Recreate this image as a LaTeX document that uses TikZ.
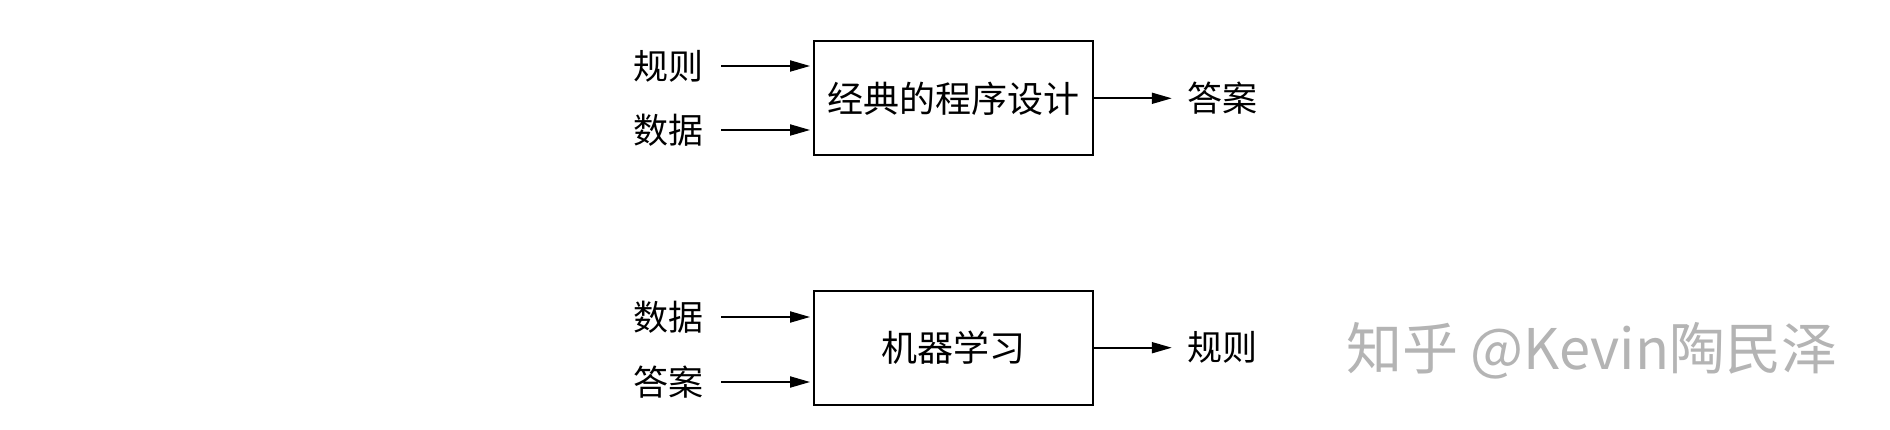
\documentclass[tikz,border=0pt]{standalone}
\usepackage{fontspec}
\setmainfont{Liberation Serif}
\newfontfamily\cjk{Noto Sans CJK SC}
\usetikzlibrary{arrows.meta,calc}
\definecolor{wm}{HTML}{B4B4B4}
\tikzset{
  procbox/.style={draw=black,line width=1.8pt,minimum width=279pt,minimum height=114pt,inner sep=0pt,font=\cjk\fontsize{36}{36}\selectfont},
  lbl/.style={inner sep=0pt,font=\cjk\fontsize{35}{35}\selectfont},
  arr/.style={line width=1.8pt,-{Stealth[length=20pt,width=11pt,inset=0pt]}},
}
\begin{document}
\begin{tikzpicture}[x=1pt,y=-1pt]
\useasboundingbox[fill=white] (0,0) rectangle (1890,430);
% top
\node[procbox] (b1) at (953.5,98.3) {经典的程序设计};
\node[lbl] (l1) at (668,66) {规则};
\node[lbl] (l2) at (668,130) {数据};
\node[lbl] (o1) at (1222,98.3) {答案};
\draw[arr,shorten <=18pt,shorten >=3pt] (l1.east) -- (l1.east -| b1.west);
\draw[arr,shorten <=18pt,shorten >=3pt] (l2.east) -- (l2.east -| b1.west);
\draw[arr,shorten >=15pt] (b1.east) -- (o1.west);
% bottom
\node[procbox] (b2) at (953.5,347.7) {机器学习};
\node[lbl] (l3) at (668,317) {数据};
\node[lbl] (l4) at (668,382) {答案};
\node[lbl] (o2) at (1222,347.7) {规则};
\draw[arr,shorten <=18pt,shorten >=3pt] (l3.east) -- (l3.east -| b2.west);
\draw[arr,shorten <=18pt,shorten >=3pt] (l4.east) -- (l4.east -| b2.west);
\draw[arr,shorten >=15pt] (b2.east) -- (o2.west);
% watermark
\node[anchor=west,inner sep=0pt,text=wm,font=\cjk\fontsize{56}{56}\selectfont] (wmk) at (1346,351) {知乎 @Kevin陶民泽};
\end{tikzpicture}
\end{document}
